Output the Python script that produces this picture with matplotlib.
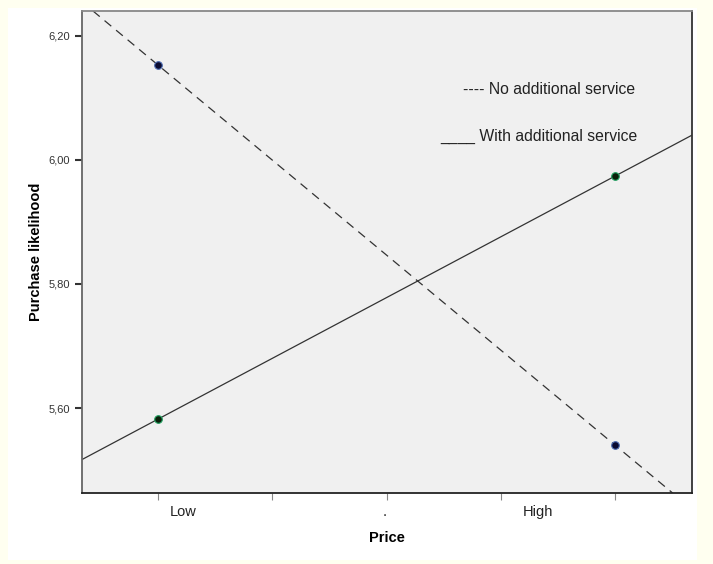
import matplotlib.pyplot as plt
from matplotlib.patches import Rectangle

# values
price_pos = [1, 2]
no_service = [6.153, 5.540]
with_service = [5.582, 5.974]

xtick_pos = [1, 1.25, 1.5, 1.75, 2]
xlabel_pos = [1.055, 1.495, 1.83]
xlabel_txt = ['Low', '.', 'High']
yticks = [5.60, 5.80, 6.00, 6.20]
ylabels = ['5,60', '5,80', '6,00', '6,20']

plt.rcParams['font.family'] = ['Liberation Sans', 'DejaVu Sans']

fig = plt.figure(figsize=(7.13, 5.64), dpi=100)
fig.patch.set_facecolor('#fffff0')
fig.patches.append(Rectangle((8 / 713, 4 / 564), 689 / 713, 552 / 564,
                             transform=fig.transFigure, facecolor='white',
                             edgecolor='none', zorder=-5))

ax = fig.add_axes([82 / 713, 71 / 564, 610 / 713, 482 / 564])
ax.set_facecolor('#f0f0f0')
ax.set_xlim(0.834, 2.168)
ax.set_ylim(5.463, 6.240)

ax.axline((price_pos[0], no_service[0]), (price_pos[1], no_service[1]),
          color='#333333', lw=0.9, ls=(0, (7, 5)))
ax.axline((price_pos[0], with_service[0]), (price_pos[1], with_service[1]),
          color='#333333', lw=0.9)
ax.scatter(price_pos, no_service, s=30, color='#0a0a30', edgecolors='#4a6ab0',
           linewidths=0.8, zorder=3)
ax.scatter(price_pos, with_service, s=30, color='#0a200a', edgecolors='#20a060',
           linewidths=0.8, zorder=3)

ax.text(0.625, 0.838, '---- No additional service', transform=ax.transAxes,
        fontsize=11.3, color='#222222', va='center')
ax.text(0.588, 0.739, '____ With additional service', transform=ax.transAxes,
        fontsize=11.3, color='#222222', va='center')

ax.set_yticks(yticks)
ax.set_yticklabels(ylabels, fontsize=8, color='#333333')
ax.set_xticks(xtick_pos)
ax.set_xticklabels([])
ax.tick_params(axis='y', direction='out', length=5, width=1.5, color='#333333')
ax.tick_params(axis='x', direction='out', length=5, width=0.8, color='#888888')
for xp, t in zip(xlabel_pos, xlabel_txt):
    ax.text(xp, -0.025, t, transform=ax.get_xaxis_transform(), ha='center',
            va='top', fontsize=10.5, color='#222222')

ax.set_xlabel('Price', fontsize=10.5, fontweight='bold', labelpad=19)
ax.set_ylabel('Purchase likelihood', fontsize=10.5, fontweight='bold', labelpad=4)

ax.spines['top'].set_color('#888888')
ax.spines['left'].set_color('#666666')
ax.spines['right'].set_color('#333333')
ax.spines['bottom'].set_color('#222222')
for s in ax.spines.values():
    s.set_linewidth(1.3)

fig.savefig('out.png', dpi=100, facecolor=fig.get_facecolor())
